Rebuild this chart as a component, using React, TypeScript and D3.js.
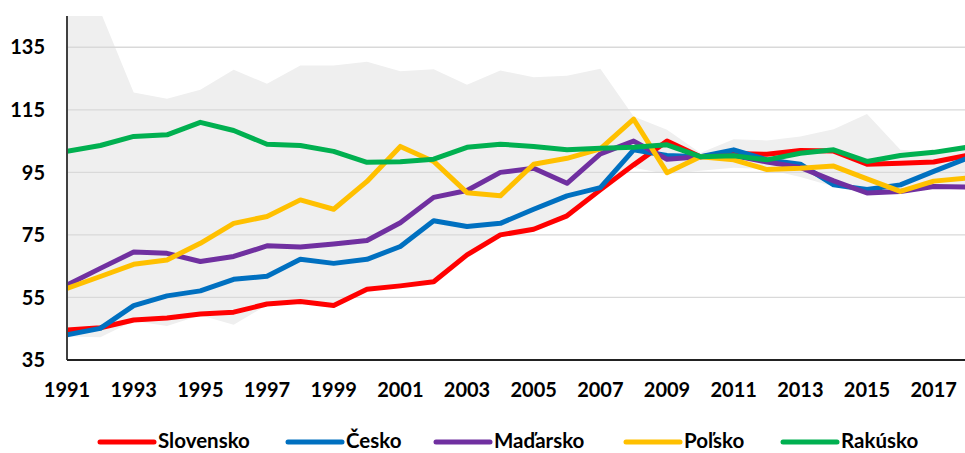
import React from "react";
import * as d3 from "d3";

const years = [1991, 1992, 1993, 1994, 1995, 1996, 1997, 1998, 1999, 2000, 2001, 2002, 2003, 2004, 2005, 2006, 2007, 2008, 2009, 2010, 2011, 2012, 2013, 2014, 2015, 2016, 2017, 2018];

const slovensko = [44.6, 45.3, 47.8, 48.4, 49.7, 50.3, 52.9, 53.7, 52.4, 57.6, 58.7, 60.0, 68.6, 75.0, 76.8, 81.1, 89.4, 97.4, 105.0, 100.0, 101.0, 100.8, 102.0, 101.8, 97.6, 97.9, 98.3, 100.4];
const cesko = [43.1, 45.1, 52.4, 55.5, 57.1, 60.8, 61.8, 67.2, 65.9, 67.2, 71.3, 79.5, 77.7, 78.7, 83.2, 87.5, 90.1, 102.2, 100.4, 100.0, 102.2, 99.0, 97.6, 91.0, 89.5, 91.0, 95.3, 99.5];
const madarsko = [59.0, 64.3, 69.5, 69.1, 66.5, 68.1, 71.5, 71.1, 72.1, 73.2, 78.9, 87.0, 89.2, 95.0, 96.3, 91.5, 100.9, 105.0, 99.2, 100.0, 100.4, 98.3, 96.6, 92.3, 88.4, 88.9, 90.5, 90.3];
const polsko = [57.9, 61.7, 65.6, 67.0, 72.3, 78.7, 80.9, 86.2, 83.2, 92.1, 103.3, 98.5, 88.5, 87.5, 97.6, 99.5, 102.5, 112.0, 94.9, 100.0, 99.0, 95.9, 96.3, 97.0, 92.9, 88.9, 92.2, 93.2];
const rakusko = [101.7, 103.6, 106.5, 107.0, 111.0, 108.4, 104.0, 103.6, 101.7, 98.2, 98.4, 99.2, 103.0, 104.0, 103.3, 102.2, 102.7, 103.0, 103.8, 100.0, 100.3, 99.0, 101.1, 102.2, 98.5, 100.4, 101.4, 103.0];

const bandUpper = [150, 146.5, 120.5, 118.5, 121.4, 127.8, 123.3, 129.2, 129.2, 130.4, 127.3, 128.0, 123.0, 127.6, 125.4, 125.9, 128.1, 112.9, 108.6, 101.2, 105.6, 105.2, 106.5, 108.8, 113.7, 102.2, 101.4, 103.2];
const bandLower = [42.5, 42.3, 47.5, 45.9, 49.3, 46.3, 52.6, 53.5, 52.3, 57.5, 58.6, 59.9, 68.5, 74.9, 76.7, 81.0, 89.3, 96.5, 94.5, 95.5, 96.5, 96.0, 93.5, 90.5, 88.0, 88.5, 90.0, 89.8];

const yTicks = [35, 55, 75, 95, 115, 135];
const xTickLabels = [1991, 1993, 1995, 1997, 1999, 2001, 2003, 2005, 2007, 2009, 2011, 2013, 2015, 2017];

const seriesNames = ["Slovensko", "Česko", "Maďarsko", "Poľsko", "Rakúsko"];
const seriesValues = [slovensko, cesko, madarsko, polsko, rakusko];
const seriesColors = ["#FF0000", "#0070C0", "#7030A0", "#FFC000", "#00B050"];

const W = 965;
const H = 453;
const left = 67;
const top = 16;
const bottom = 360;
const legendX = [100, 288, 436, 626, 783];

export default function App() {
  const x = d3.scaleLinear().domain([1991, 2018]).range([left, left + 900]);
  const y = d3.scaleLinear().domain([35, 145]).range([bottom, top]);

  const area = d3
    .area<number>()
    .x((_, i) => x(years[i]))
    .y0((_, i) => y(bandLower[i]))
    .y1((_, i) => y(bandUpper[i]));

  const line = d3
    .line<number>()
    .x((_, i) => x(years[i]))
    .y((d) => y(d));

  const font = "Lato, 'Open Sans', sans-serif";

  return (
    <svg
      width={W}
      height={H}
      style={{ position: "absolute", left: 0, top: 0, background: "#fff" }}
    >
      <defs>
        <clipPath id="plot">
          <rect x={left} y={top} width={W - left} height={bottom - top} />
        </clipPath>
      </defs>
      <g clipPath="url(#plot)">
        <path d={area(bandUpper) || ""} fill="#EFEFEF" />
      </g>
      {yTicks.slice(1).map((t) => (
        <line key={t} x1={left} x2={W} y1={y(t)} y2={y(t)} stroke="#D9D9D9" strokeWidth={1.3} />
      ))}
      <g clipPath="url(#plot)">
        {seriesValues.map((vals, k) => (
          <path
            key={seriesNames[k]}
            d={line(vals) || ""}
            fill="none"
            stroke={seriesColors[k]}
            strokeWidth={5}
            strokeLinejoin="round"
          />
        ))}
      </g>
      <line x1={left} x2={left} y1={top} y2={bottom} stroke="#404040" strokeWidth={2} />
      <line x1={left} x2={W} y1={bottom} y2={bottom} stroke="#222" strokeWidth={2} />
      {yTicks.map((t) => (
        <text
          key={t}
          x={45}
          y={y(t)}
          dy="0.36em"
          textAnchor="end"
          fontFamily={font}
          fontWeight={700}
          fontSize={20}
          fill="#000"
        >
          {t}
        </text>
      ))}
      {xTickLabels.map((t) => (
        <text
          key={t}
          x={x(t)}
          y={397}
          textAnchor="middle"
          fontFamily={font}
          fontWeight={700}
          fontSize={20}
          fill="#000"
        >
          {t}
        </text>
      ))}
      {seriesNames.map((name, k) => (
        <g key={name}>
          <line
            x1={legendX[k]}
            x2={legendX[k] + 54}
            y1={442}
            y2={442}
            stroke={seriesColors[k]}
            strokeWidth={5}
            strokeLinecap="round"
          />
          <text
            x={legendX[k] + 58}
            y={448}
            fontFamily={font}
            fontWeight={700}
            fontSize={20.5}
            fill="#000"
          >
            {name}
          </text>
        </g>
      ))}
    </svg>
  );
}
